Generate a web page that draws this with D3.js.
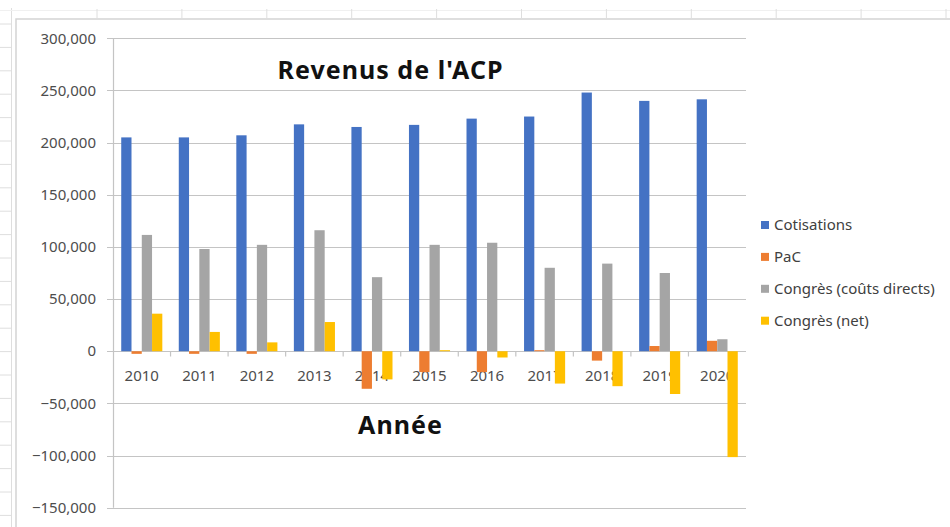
<!DOCTYPE html>
<html>
<head>
<meta charset="utf-8">
<script src="https://cdn.jsdelivr.net/npm/d3@7"></script>
<style>
	body{margin:0;background:#fff;}
	svg{display:block;font-family:"Noto Sans",sans-serif;}
</style>
</head>
<body>
<svg id="chart" width="950" height="527"></svg>
<script>
//data
var years=["2010","2011","2012","2013","2014","2015","2016","2017","2018","2019","2020"];
var seriesNames=["Cotisations","PaC","Congrès (coûts directs)","Congrès (net)"];
var cotisations=[205000,205000,207000,217500,215000,217000,223000,225000,248000,240000,241500];
var pac=[-2500,-2500,-2500,0,-36000,-20000,-20000,1000,-9000,5000,10000];
var congresCouts=[111500,98000,102000,116000,71000,102000,104000,80000,84000,75000,11500];
var congresNet=[36000,18500,8500,28000,-27000,1000,-6000,-31000,-33500,-41000,-101500];
var yTicks=[300000,250000,200000,150000,100000,50000,0,-50000,-100000,-150000];
var colors=["#4472C4","#ED7D31","#A5A5A5","#FFC000"];

var allSeries=[cotisations,pac,congresCouts,congresNet];

var svg=d3.select("#chart");

//////////spreadsheet behind the chart
var sheet=svg.append("g").attr("class","sheet");
sheet.append("line")
	.attr("x1",11.5).attr("x2",11.5).attr("y1",8).attr("y2",527)
	.attr("stroke","#dedede");
sheet.append("line")
	.attr("x1",0).attr("x2",950).attr("y1",10.5).attr("y2",10.5)
	.attr("stroke","#f0f0f0");
for(var r=0;r<22;r++){
	sheet.append("line")
		.attr("x1",0).attr("x2",11).attr("y1",24+r*23.4).attr("y2",24+r*23.4)
		.attr("stroke","#dedede");
}
for(var c=0;c<11;c++){
	sheet.append("line")
		.attr("x1",97+c*84.9).attr("x2",97+c*84.9).attr("y1",9).attr("y2",18)
		.attr("stroke","#dedede");
}
//chart area
svg.append("rect")
	.attr("x",16).attr("y",19).attr("width",960).attr("height",540)
	.attr("fill","#fff").attr("stroke","#d4d4d4").attr("stroke-width",1.5);

//////////scales
var plotLeft=113, plotRight=746, plotTop=38.3, plotBottom=507.7;
var x0=d3.scaleBand().domain(years).range([plotLeft,plotRight]).padding(0);
var step=x0.step();
var x1=d3.scaleBand().domain(d3.range(seriesNames.length)).range([step*0.143,step*0.857]).padding(0);
var y=d3.scaleLinear().domain([-150000,300000]).range([plotBottom,plotTop]);

//gridlines
svg.append("g")
	.selectAll("line")
	.data(yTicks)
	.enter().append("line")
		.attr("x1",plotLeft-6).attr("x2",plotRight)
		.attr("y1",function(d){return Math.round(y(d))+0.5;})
		.attr("y2",function(d){return Math.round(y(d))+0.5;})
		.attr("stroke","#c4c4c4").attr("stroke-width",1.2);

//y axis line
svg.append("line")
	.attr("x1",plotLeft+0.5).attr("x2",plotLeft+0.5).attr("y1",plotTop).attr("y2",plotBottom)
	.attr("stroke","#c4c4c4").attr("stroke-width",1.2);

//y labels
svg.append("g")
	.selectAll("text")
	.data(yTicks)
	.enter().append("text")
		.attr("x",96)
		.attr("y",function(d){return y(d);})
		.attr("dy","0.35em")
		.attr("text-anchor","end")
		.attr("font-size",15)
		.attr("fill","#4d4d4d")
		.text(function(d){return d3.format(",")(d);});

//x tick marks at category boundaries
var zeroY=Math.round(y(0))+0.5;
svg.append("g")
	.selectAll("line")
	.data(years.slice(1))
	.enter().append("line")
		.attr("x1",function(d){return x0(d);})
		.attr("x2",function(d){return x0(d);})
		.attr("y1",zeroY).attr("y2",zeroY+5)
		.attr("stroke","#c4c4c4").attr("stroke-width",1.2);

//x labels (drawn under bars, like the original)
svg.append("g")
	.selectAll("text")
	.data(years)
	.enter().append("text")
		.attr("x",function(d){return x0(d)+step/2;})
		.attr("y",zeroY+24)
		.attr("dy","0.35em")
		.attr("text-anchor","middle")
		.attr("font-size",15)
		.attr("fill","#4d4d4d")
		.text(function(d){return d;});

//bars
var groups=svg.append("g")
	.selectAll("g")
	.data(years)
	.enter().append("g")
		.attr("transform",function(d){return "translate("+x0(d)+",0)";});
groups.selectAll("rect")
	.data(function(d,i){
		return allSeries.map(function(s,k){return {k:k,v:s[i]};});
	})
	.enter().append("rect")
		.attr("x",function(d){return x1(d.k);})
		.attr("width",x1.bandwidth())
		.attr("y",function(d){return Math.min(y(d.v),y(0));})
		.attr("height",function(d){return Math.abs(y(d.v)-y(0));})
		.attr("fill",function(d){return colors[d.k];});

//titles
svg.append("text")
	.attr("x",390).attr("y",79)
	.attr("text-anchor","middle")
	.attr("font-size",25).attr("font-weight","bold")
	.attr("textLength",225).attr("lengthAdjust","spacing")
	.attr("fill","#111")
	.text("Revenus de l'ACP");
svg.append("text")
	.attr("x",400).attr("y",434)
	.attr("text-anchor","middle")
	.attr("font-size",25).attr("font-weight","bold")
	.attr("textLength",84).attr("lengthAdjust","spacing")
	.attr("fill","#111")
	.text("Année");

//legend
var legend=svg.append("g")
	.selectAll("g")
	.data(seriesNames)
	.enter().append("g")
		.attr("transform",function(d,i){return "translate(761,"+(225+i*31.9)+")";});
legend.append("rect")
	.attr("x",0).attr("y",-4).attr("width",8).attr("height",8)
	.attr("fill",function(d,i){return colors[i];});
legend.append("text")
	.attr("x",13).attr("y",0).attr("dy","0.35em")
	.attr("font-size",15)
	.attr("fill","#404040")
	.text(function(d){return d;});
</script>
</body>
</html>
